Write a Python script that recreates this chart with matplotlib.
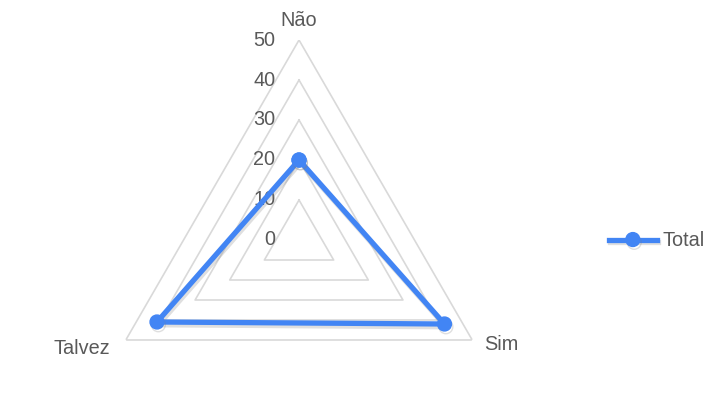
import numpy as np
import matplotlib.pyplot as plt
import matplotlib.patheffects as pe

categories = ['Não', 'Sim', 'Talvez']
totals = [20, 42, 41]
ring_values = [10, 20, 30, 40, 50]
tick_labels = ['0', '10', '20', '30', '40', '50']

blue = '#4285F4'
grid_col = '#d9d9d9'
text_col = '#595959'
fs = 14.3

fig = plt.figure(figsize=(7.27, 4.18), dpi=100)
ax = fig.add_axes([0.1362, -0.0526, 0.5502, 0.9569], projection='polar')
ax.set_theta_offset(np.pi / 2)
ax.set_theta_direction(-1)
ax.set_ylim(0, 50)
ax.grid(False)
ax.spines['polar'].set_visible(False)
ax.set_xticks([])
ax.set_yticks([])
ax.patch.set_alpha(0)

angles = np.linspace(0, 2 * np.pi, len(categories), endpoint=False)
closed = np.append(angles, angles[0])

# anéis triangulares
for r in ring_values:
    ax.plot(closed, [r] * len(closed), color=grid_col, lw=1.2, zorder=1)

# rótulos do eixo radial
for i, lab in enumerate(tick_labels):
    ax.annotate(lab, xy=(0, i * 10), xytext=(-17, 0), textcoords='offset points',
                ha='right', va='center', fontsize=fs, color=text_col,
                family='Liberation Sans')

# rótulos das categorias
offsets = [((0, 14.4), 'center', 'center'), ((8.6, -3.6), 'left', 'center'),
           ((-11, -5.8), 'right', 'center')]
for ang, cat, (off, ha, va) in zip(angles, categories, offsets):
    ax.annotate(cat, xy=(ang, 50), xytext=off, textcoords='offset points',
                ha=ha, va=va, fontsize=fs, color=text_col,
                family='Liberation Sans')

vals = totals + [totals[0]]
ax.plot(closed, vals, color=blue, lw=3.8, marker='o', markersize=10,
        label='Total', zorder=3, clip_on=False,
        path_effects=[pe.SimpleLineShadow(offset=(1, -2), shadow_color='gray', alpha=0.25),
                      pe.Normal()])

fig.legend(loc='center left', bbox_to_anchor=(609 / 727, 1 - 241 / 418),
           frameon=False, borderpad=0, borderaxespad=0, handlelength=2.4,
           handletextpad=0.3, prop={'family': 'Liberation Sans', 'size': fs},
           labelcolor=text_col)

fig.savefig('out.png', dpi=100)
